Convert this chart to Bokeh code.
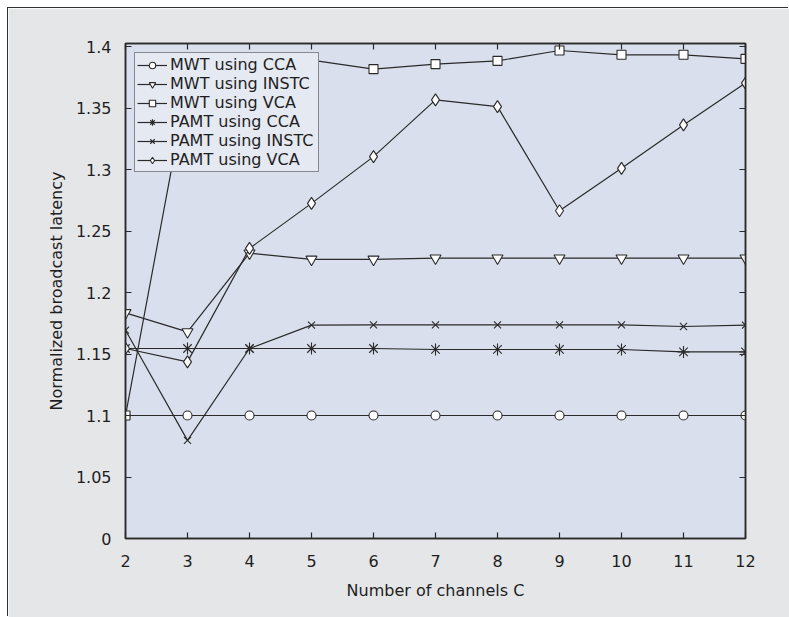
from bokeh.plotting import figure
from bokeh.models import LinearAxis, FixedTicker, Range1d, InlineStyleSheet
from bokeh.embed import file_html
from bokeh.resources import INLINE

channels = [2, 3, 4, 5, 6, 7, 8, 9, 10, 11, 12]
mwt_cca = [1.1, 1.1, 1.1, 1.1, 1.1, 1.1, 1.1, 1.1, 1.1, 1.1, 1.1]
mwt_instc = [1.1835, 1.168, 1.232, 1.227, 1.227, 1.228, 1.228, 1.228, 1.228, 1.228, 1.228]
mwt_vca = [1.1, 1.37, 1.385, 1.389, 1.3817, 1.3857, 1.3884, 1.3968, 1.3933, 1.3933, 1.39]
pamt_cca = [1.1545, 1.1545, 1.1545, 1.1545, 1.1545, 1.1537, 1.1537, 1.1537, 1.1537, 1.1517, 1.1517]
pamt_instc = [1.1694, 1.0798, 1.1545, 1.1735, 1.1737, 1.1737, 1.1737, 1.1737, 1.1737, 1.1724, 1.1735]
pamt_vca = [1.1545, 1.1436, 1.2359, 1.2725, 1.3105, 1.3567, 1.3512, 1.2665, 1.301, 1.3363, 1.3703]

series_names = ["MWT using CCA", "MWT using INSTC", "MWT using VCA",
                "PAMT using CCA", "PAMT using INSTC", "PAMT using VCA"]
series_values = [mwt_cca, mwt_instc, mwt_vca, pamt_cca, pamt_instc, pamt_vca]
series_markers = ["circle", "inverted_triangle", "square", "asterisk", "x", "diamond"]
marker_sizes = [9, 11, 9, 12, 10, 12]

x_ticks = [2, 3, 4, 5, 6, 7, 8, 9, 10, 11, 12]
y_ticks = [1.0, 1.05, 1.1, 1.15, 1.2, 1.25, 1.3, 1.35, 1.4]
y_tick_labels = ["0", "1.05", "1.1", "1.15", "1.2", "1.25", "1.3", "1.35", "1.4"]

FONT = "DejaVu Sans"
FS = "16px"
INK = "#2a2a2a"
TXT = "#1e1e1e"

p = figure(width=781, height=609, output_backend="svg", toolbar_location=None,
           x_range=Range1d(2, 12), y_range=Range1d(1.0, 1.4025),
           min_border_left=117, min_border_top=35, min_border_right=44, min_border_bottom=79)
p.margin = (8, 0, 0, 8)
p.stylesheets = [InlineStyleSheet(css=":host { box-shadow: -1px -1px 0 0 #333333; }")]
p.border_fill_color = "#e5e6e8"
p.background_fill_color = "#d9dfec"
p.outline_line_color = INK
p.outline_line_width = 1.5
p.xgrid.visible = False
p.ygrid.visible = False

for name, vals, mk, sz in zip(series_names, series_values, series_markers, marker_sizes):
    p.line(channels, vals, line_color=INK, line_width=1.2, legend_label=name)
    p.scatter(channels, vals, marker=mk, size=sz, fill_color="white",
              line_color=INK, line_width=1.1, legend_label=name)

def style_axis(ax, show_labels):
    ax.axis_line_color = INK
    ax.axis_line_width = 1.5
    ax.major_tick_in = 6
    ax.major_tick_out = 0
    ax.major_tick_line_color = INK
    ax.major_tick_line_width = 1.2
    ax.minor_tick_line_color = None
    ax.major_label_text_font = FONT
    ax.major_label_text_font_size = FS
    ax.major_label_text_color = TXT
    if not show_labels:
        ax.major_label_text_font_size = "0px"
        ax.major_label_text_alpha = 0

xax = p.xaxis[0]
xax.ticker = FixedTicker(ticks=x_ticks)
style_axis(xax, True)
xax.major_label_standoff = 16
xax.axis_label = "Number of channels C"
xax.axis_label_text_font = FONT
xax.axis_label_text_font_size = FS
xax.axis_label_text_font_style = "normal"
xax.axis_label_text_color = TXT
xax.axis_label_standoff = 11

yax = p.yaxis[0]
yax.ticker = FixedTicker(ticks=y_ticks)
yax.major_label_overrides = {t: s for t, s in zip(y_ticks, y_tick_labels)}
style_axis(yax, True)
yax.major_label_standoff = 14
yax.axis_label = "Normalized broadcast latency"
yax.axis_label_text_font = FONT
yax.axis_label_text_font_size = FS
yax.axis_label_text_font_style = "normal"
yax.axis_label_text_color = TXT
yax.axis_label_standoff = 7

top = LinearAxis(ticker=FixedTicker(ticks=x_ticks))
style_axis(top, False)
p.add_layout(top, "above")
right = LinearAxis(ticker=FixedTicker(ticks=y_ticks))
style_axis(right, False)
p.add_layout(right, "right")

lg = p.legend[0]
lg.location = "top_left"
lg.margin = 9
lg.padding = 2
lg.spacing = 0
lg.label_text_font = FONT
lg.label_text_font_size = FS
lg.label_text_color = TXT
lg.label_height = 16
lg.label_width = 146
lg.glyph_height = 16
lg.glyph_width = 30
lg.label_standoff = 3
lg.border_line_color = INK
lg.border_line_width = 1.5
lg.background_fill_color = "#e5e9f2"
lg.background_fill_alpha = 1.0

open("out.html", "w").write(file_html(p, INLINE))
